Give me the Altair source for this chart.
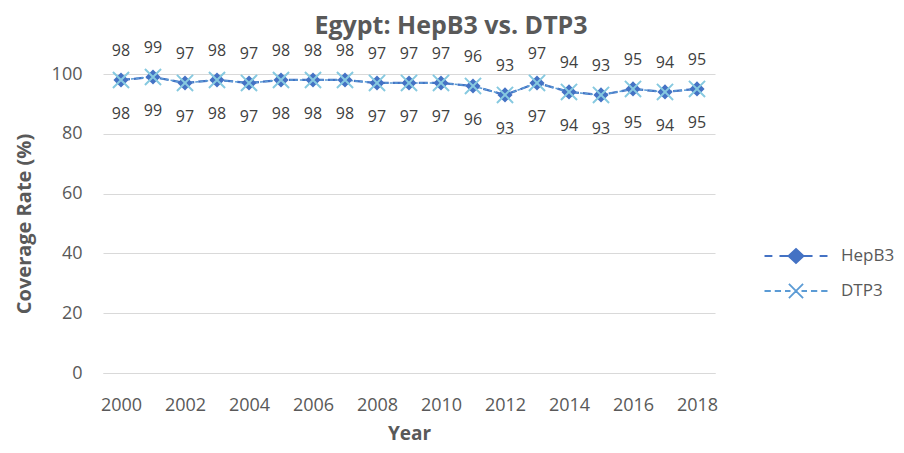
import altair as alt
import pandas as pd

years = list(range(2000, 2019))
hepb3 = [98, 99, 97, 98, 97, 98, 98, 98, 97, 97, 97, 96, 93, 97, 94, 93, 95, 94, 95]
dtp3 = [98, 99, 97, 98, 97, 98, 98, 98, 97, 97, 97, 96, 93, 97, 94, 93, 95, 94, 95]
series_names = ["HepB3", "DTP3"]

df = pd.DataFrame({"year": years, "HepB3": hepb3, "DTP3": dtp3})
long = df.melt(id_vars="year", var_name="series", value_name="v")

FONT = "Open Sans"
GRAY = "#595959"
C_HEP = "#4472C4"
C_DTP_LINE = "#5B9BD5"
C_DTP_X = "#86C9E0"

xs = alt.Scale(domain=[1999.4375, 2018.5625], nice=False, zero=False)
ys = alt.Scale(domain=[0, 100], nice=False)

x_enc = alt.X("year:Q", scale=xs, title="Year",
              axis=alt.Axis(values=list(range(2000, 2019, 2)), format="d", grid=False,
                            ticks=False, domain=True, domainColor="#d9d9d9", domainWidth=1,
                            labelFontSize=18, labelColor=GRAY, labelPadding=23,
                            titleFontSize=19, titleColor=GRAY, titlePadding=10,
                            labelFont=FONT, titleFont=FONT, titleFontWeight="bold"))
y_enc = alt.Y("v:Q", scale=ys, title="Coverage Rate (%)",
              axis=alt.Axis(values=[0, 20, 40, 60, 80, 100], domain=False, ticks=False,
                            gridColor="#d9d9d9", gridWidth=1,
                            labelFontSize=18, labelColor=GRAY, labelPadding=21,
                            titleFontSize=20, titleColor=GRAY, titlePadding=17,
                            labelFont=FONT, titleFont=FONT, titleFontWeight="bold"))

base = alt.Chart(long)

hep = base.transform_filter(alt.datum.series == "HepB3")
dtp = base.transform_filter(alt.datum.series == "DTP3")

hep_line = hep.mark_line(color=C_HEP, strokeWidth=2.25, strokeDash=[9, 4]).encode(x=x_enc, y=y_enc)
dtp_line = dtp.mark_line(color=C_DTP_LINE, strokeWidth=1.5, strokeDash=[3, 2]).encode(x="year:Q", y="v:Q")
hep_pts = hep.mark_point(shape="diamond", filled=True, color=C_HEP, size=230, opacity=1).encode(x="year:Q", y="v:Q")
XPATH = "M-1,-1L1,1M-1,1L1,-1"
dtp_pts = dtp.mark_point(shape=XPATH, filled=False, color=C_DTP_X, size=260, strokeWidth=2, opacity=1).encode(x="year:Q", y="v:Q")

hep_lbl = hep.mark_text(dy=-29, fontSize=16, color="#404040", font=FONT, baseline="middle").encode(
    x="year:Q", y="v:Q", text="v:Q")
dtp_lbl = dtp.mark_text(dy=34, fontSize=16, color="#404040", font=FONT, baseline="middle").encode(
    x="year:Q", y="v:Q", text="v:Q")

HEP_SYM = "M-2,0H-1.5M-1.05,0H1.05M1.5,0H2M0,-0.45L0.48,0L0,0.45L-0.48,0Z"
DTP_SYM = ("M-2,0H-1.6M-1.35,0H-0.95M-0.7,0H-0.35M-0.45,-0.45L0.45,0.45M-0.45,0.45L0.45,-0.45"
           "M0.35,0H0.7M0.95,0H1.35M1.6,0H2")

legend_layer = base.transform_filter(alt.datum.v < 0).mark_point(filled=True, size=992, strokeWidth=1.8, opacity=1).encode(
    x="year:Q", y="v:Q",
    fill=alt.Fill("series:N", scale=alt.Scale(domain=series_names, range=[C_HEP, C_DTP_X]),
                  legend=alt.Legend(title=None, orient="none", legendX=676, legendY=165,
                                    labelFontSize=17, labelColor=GRAY, labelFont=FONT,
                                    labelOffset=28, rowPadding=7, symbolSize=992,
                                    symbolStrokeWidth=1.8, symbolOpacity=1)),
    stroke=alt.Stroke("series:N", scale=alt.Scale(domain=series_names, range=[C_HEP, C_DTP_LINE])),
    shape=alt.Shape("series:N", scale=alt.Scale(domain=series_names, range=[HEP_SYM, DTP_SYM])),
)

chart = alt.layer(hep_line, dtp_line, hep_pts, dtp_pts, hep_lbl, dtp_lbl, legend_layer).properties(
    width=612, height=299,
    padding={"left": 95, "top": 66, "right": 181, "bottom": 72},
    autosize=alt.AutoSizeParams(type="none"),
    title=alt.TitleParams("Egypt: HepB3 vs. DTP3", fontSize=25, font=FONT, fontWeight="bold",
                          color=GRAY, dx=42, offset=1, anchor="middle"),
).configure_view(stroke=None)

chart.save("out.html", embed_options={"renderer": "svg", "actions": False})
